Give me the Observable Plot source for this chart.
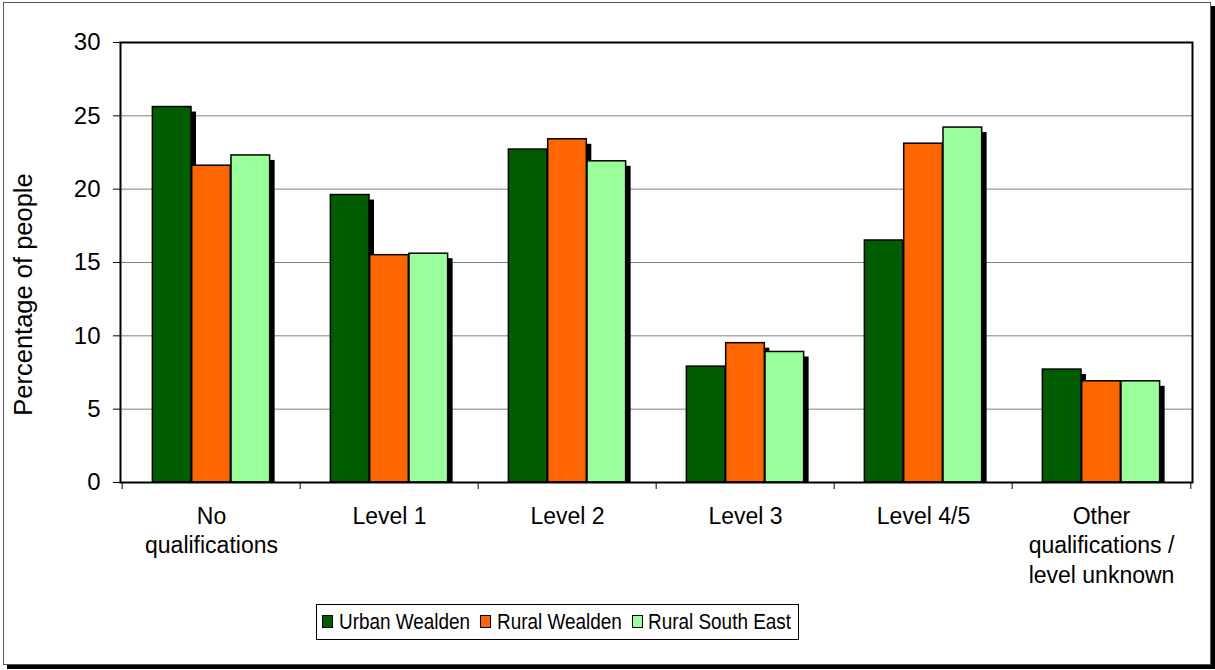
<!DOCTYPE html>
<html>
<head>
<meta charset="utf-8">
<script src="https://cdn.jsdelivr.net/npm/d3@7"></script>
<script src="https://cdn.jsdelivr.net/npm/@observablehq/plot@0.6"></script>
<style>
  html, body { margin: 0; padding: 0; background: #fff; }
  body { width: 1215px; height: 670px; position: relative; overflow: hidden; font-family: "Liberation Sans", Arial, sans-serif; }
  #outer { position: absolute; left: 3px; top: 2px; width: 1208px; height: 663px; box-sizing: border-box; border: 1px solid #555; box-shadow: 4px 4px 0 #000; background: #fff; }
  #chart { position: absolute; left: 0; top: 0; }
  #legend { position: absolute; left: 316px; top: 604px; width: 483px; height: 36px; box-sizing: border-box; border: 1px solid #000; background: #fff; font-size: 22px; color: #000; white-space: nowrap; }
  .sw { position: absolute; top: 10px; width: 9px; height: 11px; border: 1.5px solid #000; }
  .lt { position: absolute; top: 4px; line-height: 26px; transform: scaleX(0.86); transform-origin: 0 50%; }
</style>
</head>
<body>
<div id="outer"></div>
<div id="chart"></div>
<div id="legend"></div>
<script>
const categories = ["No qualifications", "Level 1", "Level 2", "Level 3", "Level 4/5", "Other qualifications / level unknown"];
const categoryLabels = ["No\nqualifications", "Level 1", "Level 2", "Level 3", "Level 4/5", "Other\nqualifications /\nlevel unknown"];
const seriesNames = ["Urban Wealden", "Rural Wealden", "Rural South East"];
const urbanWealden = [25.6, 19.6, 22.7, 7.9, 16.5, 7.7];
const ruralWealden = [21.6, 15.5, 23.4, 9.5, 23.1, 6.9];
const ruralSouthEast = [22.3, 15.6, 21.9, 8.9, 24.2, 6.9];
const colors = ["#005E00", "#FF6600", "#99FF99"];
const yTicks = [0, 5, 10, 15, 20, 25, 30];

const seriesValues = [urbanWealden, ruralWealden, ruralSouthEast];
const rows = seriesValues.map((vals, s) => vals.map((v, i) => ({category: categories[i], series: seriesNames[s], value: v})));

const W = 1215, H = 600;
const mL = 120, mR = 23, mT = 42, mB = 118;
const bw = (W - mL - mR) / categories.length;
const barW = bw * 0.22;
const pad = (bw - 3 * barW) / 2;
const inset = s => ({insetLeft: pad + s * barW, insetRight: bw - pad - (s + 1) * barW});
const labelMap = new Map(categories.map((c, i) => [c, categoryLabels[i]]));

const marks = [
  Plot.gridY(yTicks.filter(t => t > 0 && t < 30), {stroke: "#808080", strokeOpacity: 1, strokeWidth: 1}),
  ...rows.map((data, s) => Plot.barY(data, {x: "category", y: "value", fill: "#000", dx: 5, dy: 5, insetBottom: 5, ...inset(s)})),
  ...rows.map((data, s) => Plot.barY(data, {x: "category", y: "value", fill: colors[s], stroke: "#000", strokeWidth: 1.5, ...inset(s)})),
  Plot.frame({stroke: "#000", strokeWidth: 2}),
  Plot.axisY({ticks: yTicks, tickSize: 7, tickPadding: 13, fontSize: 24, label: null, stroke: "#000"}),
  Plot.axisX({tickSize: 0, tickPadding: 21, fontSize: 23, lineHeight: 1.27, label: null, tickFormat: d => labelMap.get(d)}),
  Plot.axisX({ticks: categories, tickSize: 7, tickFormat: null, label: null, dx: -bw / 2, stroke: "#000"}),
  Plot.axisX({ticks: [categories[categories.length - 1]], tickSize: 7, tickFormat: null, label: null, dx: bw / 2, stroke: "#000"}),
  Plot.text(["Percentage of people"], {frameAnchor: "left", textAnchor: "middle", text: d => d, rotate: -90, dx: -97, dy: 32, fontSize: 25.5, fill: "#000"})
];

const chart = Plot.plot({
  width: W, height: H,
  marginLeft: mL, marginRight: mR, marginTop: mT, marginBottom: mB,
  style: {background: "transparent", fontFamily: "Liberation Sans, Arial, sans-serif", color: "#000", overflow: "visible"},
  x: {type: "band", domain: categories, padding: 0, axis: null},
  y: {domain: [0, 30], axis: null},
  marks
});
document.getElementById("chart").appendChild(chart);

// legend layout (px from legend box left edge)
const swatchLeft = [5, 163, 315];
const textLeft = [22, 180, 331];
const legend = document.getElementById("legend");
seriesNames.forEach((name, i) => {
  const sw = document.createElement("div");
  sw.className = "sw";
  sw.style.left = swatchLeft[i] + "px";
  sw.style.background = colors[i];
  const t = document.createElement("span");
  t.className = "lt";
  t.style.left = textLeft[i] + "px";
  t.textContent = name;
  legend.appendChild(sw); legend.appendChild(t);
});
</script>
</body>
</html>
